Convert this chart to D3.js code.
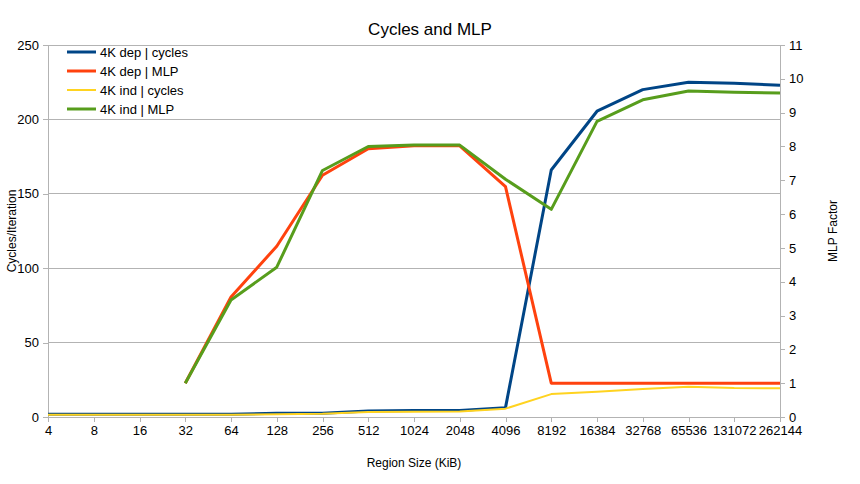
<!DOCTYPE html>
<html><head><meta charset="utf-8">
<script src="https://cdn.jsdelivr.net/npm/d3@7"></script>
<style>body{margin:0;background:#fff}svg{display:block;font-family:"Liberation Sans",Arial,sans-serif}</style>
</head><body><svg id="c" width="860" height="484"></svg>
<script>
const categories = ["4","8","16","32","64","128","256","512","1024","2048","4096","8192","16384","32768","65536","131072","262144"];
const depCycles = [1.9,1.9,1.9,1.9,1.9,2.5,2.5,4.0,4.3,4.4,6.3,166,205.5,220,225,224.3,223];
const depMLP = [null,null,null,1.0,3.55,5.05,7.15,7.93,8.02,8.02,6.81,1.0,1.0,1.0,1.0,1.0,1.0];
const indCycles = [1.5,1.5,1.5,1.5,1.5,1.8,2.2,3.4,3.6,3.7,5.6,15.4,17,18.8,20.4,19.5,19.3];
const indMLP = [null,null,null,1.0,3.46,4.43,7.29,8.0,8.04,8.04,7.03,6.14,8.74,9.38,9.64,9.6,9.58];
const leftTicks = [0,50,100,150,200,250];
const rightTicks = [0,1,2,3,4,5,6,7,8,9,10,11];

const series = [
  {name:"4K dep | cycles", values:depCycles, axis:"left", color:"#004586", w:3},
  {name:"4K dep | MLP", values:depMLP, axis:"right", color:"#ff420e", w:3},
  {name:"4K ind | cycles", values:indCycles, axis:"left", color:"#ffd320", w:2},
  {name:"4K ind | MLP", values:indMLP, axis:"right", color:"#579d1c", w:3}
];

const svg = d3.select("#c");
const L=48, R=780, T=45, B=417;
const x = d3.scalePoint().domain(categories).range([L,R]);
const yL = d3.scaleLinear().domain([0,250]).range([B,T]);
const yR = d3.scaleLinear().domain([0,11]).range([B,T]);
const grid="#b3b3b3";

svg.append("g").selectAll("line").data(leftTicks).join("line")
  .attr("x1",L).attr("x2",R).attr("y1",d=>yL(d)).attr("y2",d=>yL(d))
  .attr("stroke",grid).attr("stroke-width",1).attr("shape-rendering","crispEdges");

const axL = svg.append("g").attr("transform",`translate(${L},0)`)
  .call(d3.axisLeft(yL).tickValues(leftTicks).tickSize(5).tickPadding(4));
const axR = svg.append("g").attr("transform",`translate(${R},0)`)
  .call(d3.axisRight(yR).tickValues(rightTicks).tickSize(5).tickPadding(4));
const axX = svg.append("g").attr("transform",`translate(0,${B})`)
  .call(d3.axisBottom(x).tickSize(5).tickPadding(4));
[axL,axR,axX].forEach(a=>{
  a.selectAll("path,line").attr("stroke",grid).attr("shape-rendering","crispEdges");
  a.selectAll("text").attr("fill","#000").style("font-size","13px").style("font-family","'Liberation Sans',Arial,sans-serif");
});

series.forEach(s=>{
  const ys = s.axis==="left"?yL:yR;
  const line = d3.line().defined(d=>d!=null).x((d,i)=>x(categories[i])).y(d=>ys(d));
  svg.append("path").datum(s.values).attr("d",line)
    .attr("fill","none").attr("stroke",s.color).attr("stroke-width",s.w)
    .attr("stroke-linejoin","round");
});

const lg = svg.append("g");
series.forEach((s,i)=>{
  const yy = 52 + i*19;
  lg.append("line").attr("x1",67).attr("x2",96).attr("y1",yy).attr("y2",yy)
    .attr("stroke",s.color).attr("stroke-width",s.w);
  lg.append("text").attr("x",100).attr("y",yy+4.5).text(s.name).style("font-size","13px");
});

svg.append("text").attr("x",430).attr("y",35).attr("text-anchor","middle").style("font-size","17px").text("Cycles and MLP");
svg.append("text").attr("x",414).attr("y",467).attr("text-anchor","middle").style("font-size","12px").text("Region Size (KiB)");
svg.append("text").attr("transform","translate(16,231) rotate(-90)").attr("text-anchor","middle").style("font-size","12px").text("Cycles/Iteration");
svg.append("text").attr("transform","translate(837,231) rotate(-90)").attr("text-anchor","middle").style("font-size","12px").text("MLP Factor");
</script></body></html>
